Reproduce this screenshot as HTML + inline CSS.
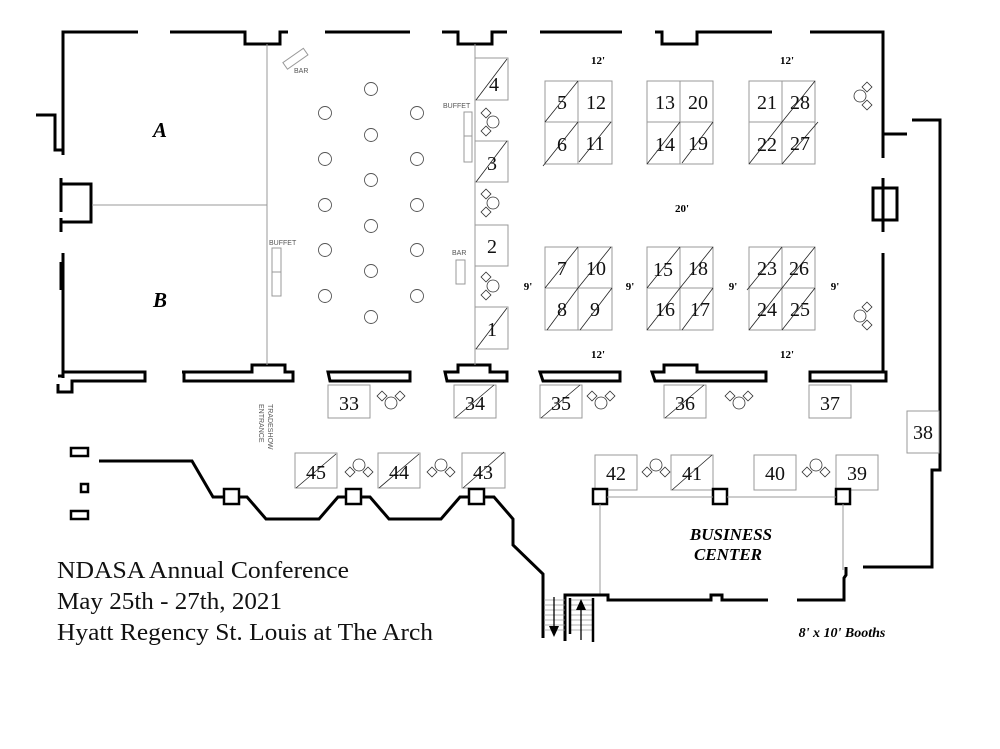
<!DOCTYPE html>
<html><head><meta charset="utf-8"><style>
html,body{margin:0;padding:0;background:#fff;}
svg{display:block;}
.w{fill:none;stroke:#000;stroke-width:3;}
.t{fill:none;stroke:#999;stroke-width:1;}
.b{fill:#fff;stroke:#999;stroke-width:1;}
.d{stroke:#222;stroke-width:0.8;}
.n{font-family:"Liberation Serif",serif;font-size:20px;fill:#111;text-anchor:middle;}
.s{font-family:"Liberation Sans",sans-serif;font-size:7px;fill:#555;}
.m{font-family:"Liberation Serif",serif;font-size:11px;font-weight:bold;fill:#000;text-anchor:middle;}
</style></head><body>
<svg width="1000" height="749" viewBox="0 0 1000 749" xmlns="http://www.w3.org/2000/svg">
<defs>
<g id="amV"><circle cx="7" cy="0" r="6" fill="#fff" stroke="#333" stroke-width="0.8"/><rect x="-3.5" y="-12.5" width="7" height="7" transform="rotate(45 0 -9)" fill="#fff" stroke="#333" stroke-width="0.8"/><rect x="-3.5" y="5.5" width="7" height="7" transform="rotate(45 0 9)" fill="#fff" stroke="#333" stroke-width="0.8"/></g>
<g id="amL"><circle cx="-7" cy="0" r="6" fill="#fff" stroke="#333" stroke-width="0.8"/><rect x="-3.5" y="-12.5" width="7" height="7" transform="rotate(45 0 -9)" fill="#fff" stroke="#333" stroke-width="0.8"/><rect x="-3.5" y="5.5" width="7" height="7" transform="rotate(45 0 9)" fill="#fff" stroke="#333" stroke-width="0.8"/></g>
<g id="amD"><circle cx="0" cy="7" r="6" fill="#fff" stroke="#333" stroke-width="0.8"/><rect x="-12.5" y="-3.5" width="7" height="7" transform="rotate(45 -9 0)" fill="#fff" stroke="#333" stroke-width="0.8"/><rect x="5.5" y="-3.5" width="7" height="7" transform="rotate(45 9 0)" fill="#fff" stroke="#333" stroke-width="0.8"/></g>
<g id="amU"><circle cx="0" cy="-7" r="6" fill="#fff" stroke="#333" stroke-width="0.8"/><rect x="-12.5" y="-3.5" width="7" height="7" transform="rotate(45 -9 0)" fill="#fff" stroke="#333" stroke-width="0.8"/><rect x="5.5" y="-3.5" width="7" height="7" transform="rotate(45 9 0)" fill="#fff" stroke="#333" stroke-width="0.8"/></g>
</defs>

<path class="w" d="M63,155 V32 H138 M170,32 H245 V44 H280 V32 H288 M325,32 H410 M442,32 H458 V44 H492 V32 H507 M540,32 H622 M655,32 H662 V44 H697 V32 H772 M810,32 H883 V158 M883,134 H907"/>
<path class="w" d="M36,115 H55 V150 H63"/>
<path class="w" d="M61,178 V212 M61,184 H91 V222 H61 M61,218 V232"/>
<path class="w" d="M63,253 V378 M61,262 V290"/>
<path class="w" d="M883,178 V232 M873,188 H897 V220 H873 Z M883,253 V372"/>
<path class="w" d="M912,120 H940 V470 H932 V567 H863"/>
<path class="w" d="M63,372 H145 V381 H72 V392 H58 V384 M58,376 H63"/>
<path class="w" d="M182,372 H252 V365 H285 V372 H293 V381 H184 V372"/>
<path class="w" d="M328,372 H410 V381 H330 Z"/>
<path class="w" d="M445,372 H458 V365 H490 V372 H507 V381 H447 Z"/>
<path class="w" d="M540,372 H620 V381 H543 Z"/>
<path class="w" d="M652,372 H664 V365 H697 V372 H766 V381 H655 Z"/>
<path class="w" d="M810,372 H886 V381 H810 Z"/>
<line class="t" x1="267" y1="44" x2="267" y2="365"/>
<line class="t" x1="92" y1="205" x2="267" y2="205"/>
<line class="t" x1="475" y1="44" x2="475" y2="365"/>

<text x="160" y="137" font-family="Liberation Serif,serif" font-size="21" font-weight="bold" font-style="italic" text-anchor="middle">A</text>
<text x="160" y="307" font-family="Liberation Serif,serif" font-size="21" font-weight="bold" font-style="italic" text-anchor="middle">B</text>

<rect x="283" y="55" width="25" height="8" class="b" transform="rotate(-35 295 59)"/>
<text class="s" x="294" y="73">BAR</text>
<text class="s" x="269" y="245">BUFFET</text>
<rect class="b" x="272" y="248" width="9" height="48"/><line class="t" x1="272" y1="272" x2="281" y2="272"/>
<text class="s" x="443" y="108">BUFFET</text>
<rect class="b" x="464" y="112" width="8" height="50"/><line class="t" x1="464" y1="136" x2="472" y2="136"/>
<text class="s" x="452" y="255">BAR</text>
<rect class="b" x="456" y="260" width="9" height="24"/>

<g fill="#fff" stroke="#555" stroke-width="0.9">
<circle cx="325" cy="113" r="6.5"/><circle cx="325" cy="159" r="6.5"/><circle cx="325" cy="205" r="6.5"/><circle cx="325" cy="250" r="6.5"/><circle cx="325" cy="296" r="6.5"/>
<circle cx="371" cy="89" r="6.5"/><circle cx="371" cy="135" r="6.5"/><circle cx="371" cy="180" r="6.5"/><circle cx="371" cy="226" r="6.5"/><circle cx="371" cy="271" r="6.5"/><circle cx="371" cy="317" r="6.5"/>
<circle cx="417" cy="113" r="6.5"/><circle cx="417" cy="159" r="6.5"/><circle cx="417" cy="205" r="6.5"/><circle cx="417" cy="250" r="6.5"/><circle cx="417" cy="296" r="6.5"/>
</g>

<g>
<rect class="b" x="475" y="58" width="33" height="42"/><line class="d" x1="476" y1="100" x2="507" y2="59"/><text class="n" x="494" y="91">4</text>
<rect class="b" x="475" y="141" width="33" height="41"/><line class="d" x1="476" y1="182" x2="507" y2="141"/><text class="n" x="492" y="170">3</text>
<rect class="b" x="475" y="225" width="33" height="41"/><text class="n" x="492" y="253">2</text>
<rect class="b" x="475" y="307" width="33" height="42"/><line class="d" x1="476" y1="349" x2="507" y2="308"/><text class="n" x="492" y="336">1</text>
<use href="#amV" x="486" y="122"/><use href="#amV" x="486" y="203"/><use href="#amV" x="486" y="286"/>
</g>

<g>
<rect class="b" x="545" y="81" width="67" height="83"/><line class="t" x1="578" y1="81" x2="578" y2="164"/><line class="t" x1="545" y1="122" x2="612" y2="122"/>
<rect class="b" x="647" y="81" width="66" height="83"/><line class="t" x1="680" y1="81" x2="680" y2="164"/><line class="t" x1="647" y1="122" x2="713" y2="122"/>
<rect class="b" x="749" y="81" width="66" height="83"/><line class="t" x1="782" y1="81" x2="782" y2="164"/><line class="t" x1="749" y1="122" x2="815" y2="122"/>
<rect class="b" x="545" y="247" width="67" height="83"/><line class="t" x1="578" y1="247" x2="578" y2="330"/><line class="t" x1="545" y1="288" x2="612" y2="288"/>
<rect class="b" x="647" y="247" width="66" height="83"/><line class="t" x1="680" y1="247" x2="680" y2="330"/><line class="t" x1="647" y1="288" x2="713" y2="288"/>
<rect class="b" x="749" y="247" width="66" height="83"/><line class="t" x1="782" y1="247" x2="782" y2="330"/><line class="t" x1="749" y1="288" x2="815" y2="288"/>
</g>
<g class="d">
<line x1="545" y1="122" x2="578" y2="81"/>
<line x1="543" y1="166" x2="578" y2="122"/><line x1="579" y1="162" x2="611" y2="122"/>
<line x1="647" y1="164" x2="680" y2="122"/><line x1="682" y1="163" x2="713" y2="122"/>
<line x1="782" y1="122" x2="815" y2="81"/><line x1="749" y1="164" x2="782" y2="122"/><line x1="782" y1="164" x2="818" y2="122"/>
<line x1="545" y1="288" x2="578" y2="247"/><line x1="578" y1="288" x2="611" y2="247"/><line x1="547" y1="330" x2="578" y2="288"/><line x1="580" y1="330" x2="612" y2="288"/>
<line x1="647" y1="288" x2="680" y2="247"/><line x1="680" y1="288" x2="713" y2="247"/><line x1="647" y1="330" x2="680" y2="288"/><line x1="682" y1="330" x2="713" y2="288"/>
<line x1="747" y1="290" x2="782" y2="247"/><line x1="782" y1="288" x2="815" y2="247"/><line x1="749" y1="330" x2="782" y2="288"/><line x1="782" y1="330" x2="815" y2="288"/>
</g>
<g class="n">
<text x="562" y="109">5</text><text x="596" y="109">12</text><text x="562" y="151">6</text><text x="595" y="150">11</text>
<text x="665" y="109">13</text><text x="698" y="109">20</text><text x="665" y="151">14</text><text x="698" y="150">19</text>
<text x="767" y="109">21</text><text x="800" y="109">28</text><text x="767" y="151">22</text><text x="800" y="150">27</text>
<text x="562" y="275">7</text><text x="596" y="275">10</text><text x="562" y="316">8</text><text x="595" y="316">9</text>
<text x="663" y="276">15</text><text x="698" y="275">18</text><text x="665" y="316">16</text><text x="700" y="316">17</text>
<text x="767" y="275">23</text><text x="799" y="275">26</text><text x="767" y="316">24</text><text x="800" y="316">25</text>
</g>
<g class="m">
<text x="598" y="64">12'</text><text x="787" y="64">12'</text><text x="598" y="358">12'</text><text x="787" y="358">12'</text>
<text x="682" y="212">20'</text>
<text x="528" y="290">9'</text><text x="630" y="290">9'</text><text x="733" y="290">9'</text><text x="835" y="290">9'</text>
</g>
<use href="#amL" x="867" y="96"/><use href="#amL" x="867" y="316"/>

<rect class="b" x="328" y="385" width="42" height="33"/><text class="n" x="349" y="410">33</text><use href="#amD" x="391" y="396"/>
<rect class="b" x="454" y="385" width="42" height="33"/><line class="d" x1="455" y1="418" x2="494" y2="385"/><text class="n" x="475" y="410">34</text>
<rect class="b" x="540" y="385" width="42" height="33"/><line class="d" x1="541" y1="418" x2="580" y2="385"/><text class="n" x="561" y="410">35</text><use href="#amD" x="601" y="396"/>
<rect class="b" x="664" y="385" width="42" height="33"/><line class="d" x1="665" y1="418" x2="704" y2="385"/><text class="n" x="685" y="410">36</text><use href="#amD" x="739" y="396"/>
<rect class="b" x="809" y="385" width="42" height="33"/><text class="n" x="830" y="410">37</text>
<rect class="b" x="907" y="411" width="32" height="42"/><text class="n" x="923" y="439">38</text>

<text class="s" transform="translate(268,404) rotate(90)">TRADESHOW</text>
<text class="s" transform="translate(259,404) rotate(90)">ENTRANCE</text>

<rect class="b" x="295" y="453" width="42" height="35"/><line class="d" x1="296" y1="488" x2="336" y2="454"/><text class="n" x="316" y="479">45</text><use href="#amU" x="359" y="472"/>
<rect class="b" x="378" y="453" width="42" height="35"/><line class="d" x1="379" y1="488" x2="419" y2="454"/><text class="n" x="399" y="479">44</text><use href="#amU" x="441" y="472"/>
<rect class="b" x="462" y="453" width="43" height="35"/><line class="d" x1="463" y1="488" x2="504" y2="452"/><text class="n" x="483" y="479">43</text>
<rect class="b" x="595" y="455" width="42" height="35"/><text class="n" x="616" y="480">42</text><use href="#amU" x="656" y="472"/>
<rect class="b" x="671" y="455" width="42" height="35"/><line class="d" x1="672" y1="490" x2="712" y2="455"/><text class="n" x="692" y="480">41</text>
<rect class="b" x="754" y="455" width="42" height="35"/><text class="n" x="775" y="480">40</text><use href="#amU" x="816" y="472"/>
<rect class="b" x="836" y="455" width="42" height="35"/><text class="n" x="857" y="480">39</text>

<g fill="#fff" stroke="#000" stroke-width="2.5">
<rect x="71" y="448" width="17" height="8"/><rect x="81" y="484" width="7" height="8"/><rect x="71" y="511" width="17" height="8"/>
</g>
<path class="w" d="M99,461 H192 L213,497 H224 M240,497 H247 L266,519 H319 L338,497 H346 M362,497 H370 L389,519 H441 L460,497 H469 M485,497 H494 L513,519 V545 L543,574 V638"/>
<g fill="#fff" stroke="#000" stroke-width="2.5">
<rect x="224" y="489" width="15" height="15"/><rect x="346" y="489" width="15" height="15"/><rect x="469" y="489" width="15" height="15"/>
<rect x="593" y="489" width="14" height="15"/><rect x="713" y="489" width="14" height="15"/><rect x="836" y="489" width="14" height="15"/>
</g>
<line class="t" x1="607" y1="497" x2="713" y2="497"/><line class="t" x1="727" y1="497" x2="836" y2="497"/>
<line class="t" x1="600" y1="504" x2="600" y2="595"/><line class="t" x1="843" y1="504" x2="843" y2="570"/>
<path class="w" d="M565,641 V595 H608 V600 H711 V595 H722 V600 H768 M797,600 H844 V578 L846,575 V567"/>
<g stroke="#999" stroke-width="0.8">
<line x1="544" y1="600" x2="565" y2="600"/><line x1="544" y1="605" x2="565" y2="605"/><line x1="544" y1="610" x2="565" y2="610"/><line x1="544" y1="615" x2="565" y2="615"/><line x1="544" y1="620" x2="565" y2="620"/><line x1="544" y1="625" x2="565" y2="625"/><line x1="544" y1="630" x2="565" y2="630"/>
<line x1="570" y1="600" x2="593" y2="600"/><line x1="570" y1="605" x2="593" y2="605"/><line x1="570" y1="610" x2="593" y2="610"/><line x1="570" y1="615" x2="593" y2="615"/><line x1="570" y1="620" x2="593" y2="620"/><line x1="570" y1="625" x2="593" y2="625"/><line x1="570" y1="630" x2="593" y2="630"/>
</g>
<path class="w" d="M570,598 V634 M593,598 V642" style="stroke-width:2.5"/>
<line x1="554" y1="597" x2="554" y2="628" stroke="#000" stroke-width="1.3"/><polygon points="549,626 559,626 554,637" fill="#000"/>
<line x1="581" y1="640" x2="581" y2="608" stroke="#000" stroke-width="1.3"/><polygon points="576,610 586,610 581,599" fill="#000"/>

<text x="731" y="540" font-family="Liberation Serif,serif" font-size="17" font-weight="bold" font-style="italic" text-anchor="middle">BUSINESS</text>
<text x="728" y="560" font-family="Liberation Serif,serif" font-size="17" font-weight="bold" font-style="italic" text-anchor="middle">CENTER</text>
<text x="842" y="637" font-family="Liberation Serif,serif" font-size="14" font-weight="bold" font-style="italic" text-anchor="middle">8' x 10' Booths</text>

<g font-family="Liberation Serif,serif" font-size="24" fill="#111">
<text x="57" y="578" textLength="292" lengthAdjust="spacingAndGlyphs">NDASA Annual Conference</text>
<text x="57" y="609" textLength="225" lengthAdjust="spacingAndGlyphs">May 25th - 27th, 2021</text>
<text x="57" y="640" textLength="376" lengthAdjust="spacingAndGlyphs">Hyatt Regency St. Louis at The Arch</text>
</g>
</svg>
</body></html>
